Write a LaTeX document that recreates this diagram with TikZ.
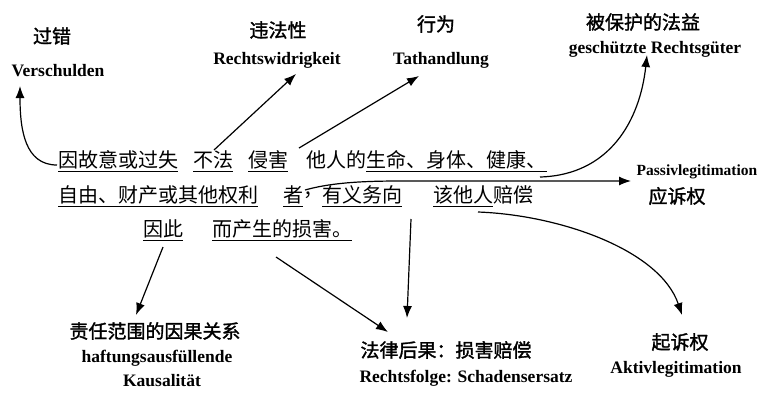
\documentclass[tikz,border=0pt]{standalone}
\usepackage{fontspec}
\setmainfont{Liberation Serif}
\newfontfamily\cjk{Noto Sans CJK SC}
\newfontfamily\cjkb[FakeBold=1.5]{Noto Sans CJK SC}
\usetikzlibrary{arrows.meta,calc}
\begin{document}
\begin{tikzpicture}[x=1pt,y=-1pt,
  seg/.style={font=\cjk\fontsize{20}{20}\selectfont, inner xsep=0pt, inner ysep=2pt, anchor=west},
  zh/.style={font=\cjkb\fontsize{19}{19}\selectfont, inner sep=0pt},
  de/.style={font=\bfseries\fontsize{17.5}{17.5}\selectfont, inner sep=0pt},
  ul/.style={line width=1.3pt},
  arr/.style={line width=1.2pt, -{Latex[length=12pt,width=9pt]}},
]
\useasboundingbox[fill=white] (0,0) rectangle (763,392);
% sentence
\node[seg] (s1) at (58,160) {因故意或过失};
\node[seg] (s2) at (193,160) {不法};
\node[seg] (s3) at (248,160) {侵害};
\node[seg] (s4) at (306,160) {他人的};
\node[seg] (s5) at (s4.east) {生命、身体、健康、};
\node[seg] (t1) at (58,195) {自由、财产或其他权利};
\node[seg] (t2) at (283,195) {者};
\node[seg] (t3) at (t2.east) {，};
\node[seg] (t4) at (322,195) {有义务向};
\node[seg] (t5) at (433,195) {该他人};
\node[seg] (t6) at (t5.east) {赔偿};
\node[seg] (u1) at (143,229) {因此};
\node[seg] (u2) at (212,229) {而产生的损害。};
\foreach \n in {s1,s2,s3,s5,t1,t2,t4,t5,u1,u2}
  \draw[ul] (\n.south west) -- (\n.south east);
% labels
\node[zh] (guocuo) at (52,36) {过错};
\node[de] (verschulden) at (58,71) {Verschulden};
\node[zh] (weifa) at (278,30) {违法性};
\node[de] (rw) at (277,60) {Rechtswidrigkeit};
\node[zh] (xingwei) at (436,24) {行为};
\node[de] (tat) at (441,60) {Tathandlung};
\node[zh] (fayi) at (643,22) {被保护的法益};
\node[de] (rg) at (655,49) {geschützte Rechtsgüter};
\node[de, font=\bfseries\fontsize{15.5}{15.5}\selectfont] (passiv) at (697,172) {Passivlegitimation};
\node[zh] (yingsu) at (677,196) {应诉权};
\node[zh] (zeren) at (155,331) {责任范围的因果关系};
\node[de] (haft) at (157,358) {haftungsausfüllende};
\node[de] (kaus) at (162,381) {Kausalität};
\node[zh] (falv) at (446,350) {法律后果：损害赔偿};
\node[de] (rf) at (466,378) {Rechtsfolge: Schadensersatz};
\node[zh] (qisu) at (680,342) {起诉权};
\node[de] (aktiv) at (676,369) {Aktivlegitimation};
% connector ends
\coordinate (c1a) at (57,165);   \coordinate (c1b) at (20,86);
\coordinate (c2a) at (214,150);  \coordinate (c2b) at (296,74);
\coordinate (c3a) at (299,148);  \coordinate (c3b) at (419,76);
\coordinate (c4a) at (540,177);  \coordinate (c4b) at (647,55);
\coordinate (c5a) at (305,190);  \coordinate (c5b) at (631,181);
\coordinate (c6a) at (411,219);  \coordinate (c6b) at (407,318);
\coordinate (c7a) at (163,247);  \coordinate (c7b) at (136,315);
\coordinate (c8a) at (276,257);  \coordinate (c8b) at (388,332);
\coordinate (c9a) at (478,212);  \coordinate (c9b) at (682,315);
\draw[arr] (c1a) .. controls (25,165) and (20,130) .. (c1b);
\draw[arr] (c2a) -- (c2b);
\draw[arr] (c3a) -- (c3b);
\draw[arr] (c4a) .. controls (610,175) and (640,120) .. (c4b);
\draw[arr] (c5a) .. controls (330,183) and (360,181) .. (400,181) -- (c5b);
\draw[arr] (c6a) -- (c6b);
\draw[arr] (c7a) -- (c7b);
\draw[arr] (c8a) -- (c8b);
\draw[arr] (c9a) .. controls (560,215) and (660,250) .. (c9b);
\end{tikzpicture}
\end{document}
